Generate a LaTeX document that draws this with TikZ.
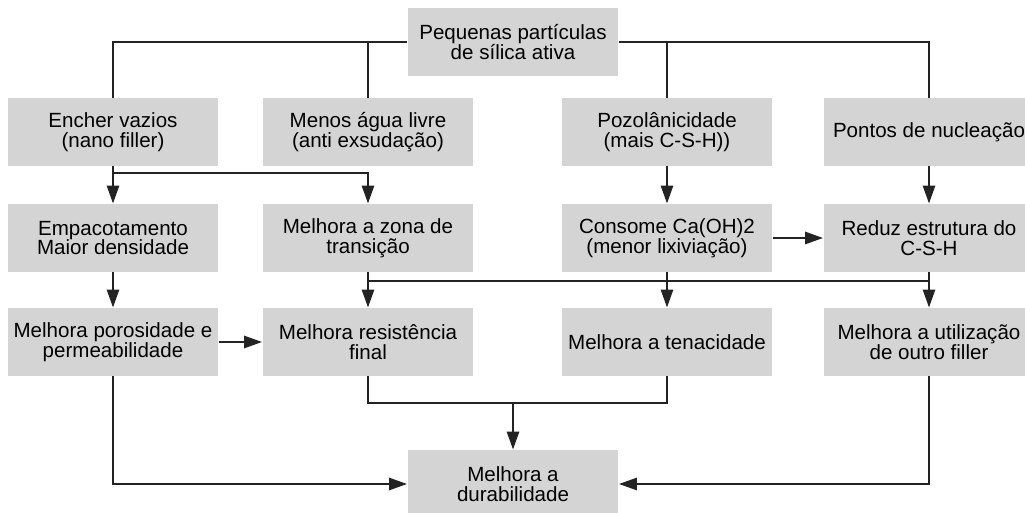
\documentclass[tikz,border=0pt]{standalone}
\usepackage{fontspec}
\setmainfont{Liberation Sans}
\usetikzlibrary{arrows.meta}

\definecolor{boxgray}{RGB}{212,212,212}
\definecolor{linegray}{RGB}{35,35,35}

\tikzset{
  caixa/.style={fill=boxgray, minimum width=4.22cm, minimum height=1.36cm,
    inner sep=0pt, align=center, font=\fontsize{11.7}{11.1}\selectfont},
  liga/.style={draw=linegray, line width=1.5pt},
  seta/.style={liga, -{Triangle[length=0.36cm,width=0.24cm]}}
}

\begin{document}
\begin{tikzpicture}[x=0.02cm,y=-0.02cm]
\useasboundingbox (0,0) rectangle (1025,513);

% caixas
\node[caixa] (topo) at (513,42) {Pequenas partículas\\de sílica ativa};

\node[caixa] (encher) at (113,132) {Encher vazios\\(nano filler)};
\node[caixa] (menos) at (368,132) {Menos água livre\\(anti exsudação)};
\node[caixa] (pozo) at (667,132) {Pozolânicidade\\(mais C-S-H))};
\node[caixa] (pontos) at (929,132) {Pontos de nucleação};

\node[caixa] (empac) at (113,238) {Empacotamento\\Maior densidade};
\node[caixa] (zona) at (368,238) {Melhora a zona de\\transição};
\node[caixa] (consome) at (667,238) {Consome Ca(OH)2\\(menor lixiviação)};
\node[caixa] (reduz) at (929,238) {Reduz estrutura do\\C-S-H};

\node[caixa] (poros) at (113,342) {Melhora porosidade e\\permeabilidade};
\node[caixa] (resist) at (368,342) {Melhora resistência\\final};
\node[caixa] (tenac) at (667,342) {Melhora a tenacidade};
\node[caixa] (utiliz) at (929,342) {Melhora a utilização\\de outro filler};

\node[caixa] (durab) at (513,484) {Melhora a\\durabilidade};

% ligacoes de cima
\draw[liga] (topo.west) -| (encher.north);
\draw[liga] (menos.north) -- (menos.north |- topo.west);
\draw[liga] (topo.east) -| (pontos.north);
\draw[liga] (pozo.north) -- (pozo.north |- topo.east);

% primeira fila
\coordinate (bus1) at (113,173);
\draw[seta] (encher.south) -- (empac.north);
\draw[seta] (bus1) -| (zona.north);
\draw[seta] (pozo.south) -- (consome.north);
\draw[seta] (pontos.south) -- (reduz.north);
\draw[seta] (consome.east) -- (reduz.west);

% segunda fila
\coordinate (bus2) at (368,281);
\draw[seta] (empac.south) -- (poros.north);
\draw[seta] (zona.south) -- (resist.north);
\draw[seta] (consome.south) -- (tenac.north);
\draw[seta] (reduz.south) -- (utiliz.north);
\draw[liga] (bus2) -- (bus2 -| reduz.south);
\draw[seta] (poros.east) -- (resist.west);

% para a durabilidade
\coordinate (bus3) at (368,403);
\draw[liga] (resist.south) -- (bus3) -| (tenac.south);
\draw[seta] (bus3 -| durab.north) -- (durab.north);
\draw[seta] (poros.south) |- (durab.west);
\draw[seta] (utiliz.south) |- (durab.east);
\end{tikzpicture}
\end{document}
